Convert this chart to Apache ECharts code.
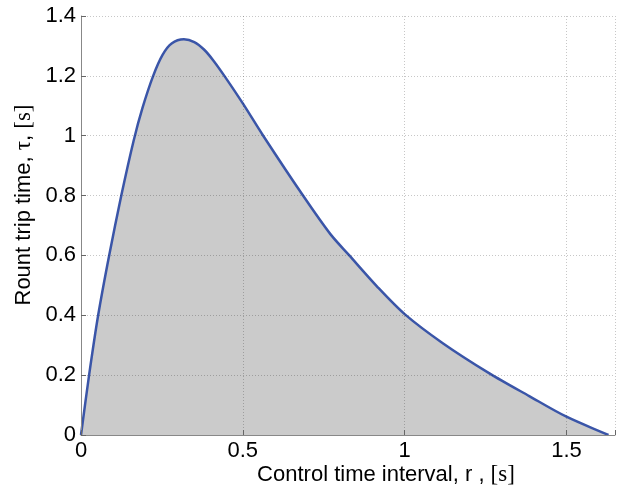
<!DOCTYPE html>
<html>
<head>
<meta charset="utf-8">
<script src="https://cdn.jsdelivr.net/npm/echarts@6/dist/echarts.min.js"></script>
<style>html,body{margin:0;padding:0;background:#fff}#c{width:618px;height:496px}</style>
</head>
<body>
<div id="c"></div>
<script>
// Control time interval r [s]
const rValues = [0, 0.025, 0.053, 0.087, 0.1245, 0.163, 0.19, 0.223, 0.252, 0.28, 0.318, 0.35, 0.38, 0.41, 0.443, 0.5, 0.563, 0.686, 0.77, 0.829, 0.915, 1.0, 1.119, 1.262, 1.385, 1.5, 1.63];
// Round trip time tau [s]
const tauValues = [0, 0.2, 0.4, 0.6, 0.8, 0.985, 1.093, 1.2, 1.27, 1.308, 1.322, 1.313, 1.288, 1.25, 1.2, 1.108, 1.0, 0.8, 0.672, 0.6, 0.496, 0.404, 0.306, 0.206, 0.13, 0.061, 0];
const xTicks = [0, 0.5, 1, 1.5];
const yTicks = [0, 0.2, 0.4, 0.6, 0.8, 1, 1.2, 1.4];

const data = rValues.map((r, i) => [r, tauValues[i]]);
const chart = echarts.init(document.getElementById('c'), null, {renderer: 'canvas'});
const font = '"Liberation Sans", Arial, Helvetica, sans-serif';
const serif = '"Liberation Serif", "Times New Roman", serif';
const gridLine = {show: true, lineStyle: {color: 'rgba(0,0,0,0.22)', width: 1, type: [1, 2]}};

chart.setOption({
  animation: false,
  backgroundColor: '#fff',
  grid: {left: 81, right: -2, top: 16, bottom: 61, containLabel: false},
  xAxis: {
    type: 'value', min: 0, max: 1.65, interval: 0.5, z: 5,
    axisLine: {show: true, onZero: false, lineStyle: {color: '#888', width: 1}},
    axisTick: {show: true, inside: true, length: 5, lineStyle: {color: '#666'}},
    axisLabel: {
      color: '#000', fontFamily: font, fontSize: 22, margin: 5, showMaxLabel: true,
      formatter: v => xTicks.some(t => Math.abs(t - v) < 1e-9) ? String(v) : ''
    },
    splitLine: gridLine
  },
  yAxis: {
    type: 'value', min: 0, max: 1.4, interval: 0.2, z: 5,
    axisLine: {show: true, onZero: false, lineStyle: {color: '#888', width: 1}},
    axisTick: {show: true, inside: true, length: 5, lineStyle: {color: '#666'}},
    axisLabel: {
      color: '#000', fontFamily: font, fontSize: 22, margin: 5,
      formatter: v => { const t = yTicks.find(t => Math.abs(t - v) < 1e-9); return t === undefined ? '' : String(t); }
    },
    splitLine: gridLine
  },
  series: [{
    type: 'line', data: data, smooth: 0.3, showSymbol: false, z: 2,
    lineStyle: {color: '#3a55a8', width: 2.5},
    areaStyle: {color: '#cbcbcb', opacity: 1}
  }],
  graphic: [
    {
      type: 'text', x: 386, y: 475, z: 10,
      style: {
        align: 'center', verticalAlign: 'middle',
        text: '{a|Control time interval, r , }{b|[s]}',
        rich: {
          a: {fontFamily: font, fontSize: 22, fill: '#000'},
          b: {fontFamily: serif, fontSize: 23, fill: '#000'}
        }
      }
    },
    {
      type: 'text', x: 24, y: 205, rotation: Math.PI / 2, z: 10,
      style: {
        align: 'center', verticalAlign: 'middle',
        text: '{a|Rount trip time, }{b|τ}{a|, }{b|[s]}',
        rich: {
          a: {fontFamily: font, fontSize: 22, fill: '#000'},
          b: {fontFamily: serif, fontSize: 23, fill: '#000'}
        }
      }
    }
  ]
});
</script>
</body>
</html>
